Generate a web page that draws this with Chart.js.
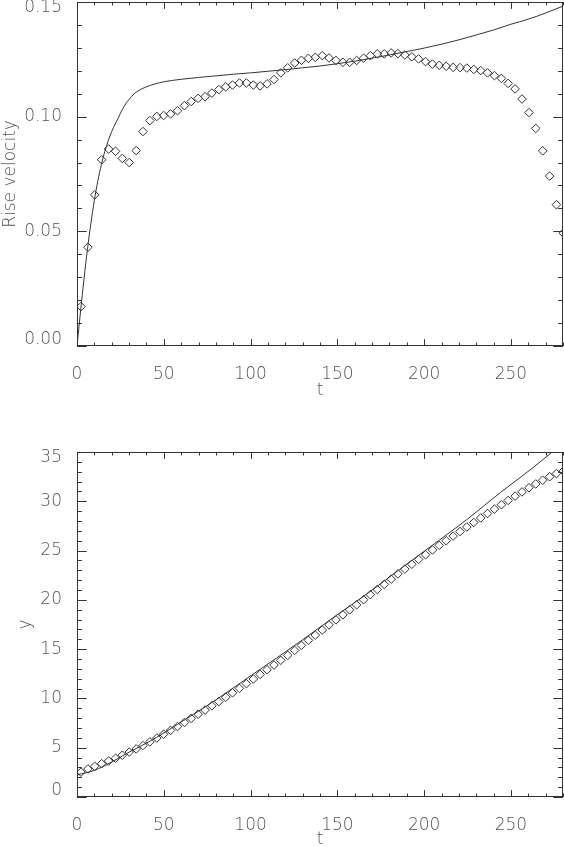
<!DOCTYPE html>
<html>
<head>
<meta charset="utf-8">
<script src="https://cdn.jsdelivr.net/npm/chart.js@4"></script>
<style>
  body { margin: 0; background: #fff; overflow: hidden; }
  #rise { position: absolute; left: 0; top: 0; }
  #height { position: absolute; left: 0; top: 430px; }
</style>
</head>
<body>
<canvas id="rise" width="564" height="401"></canvas>
<canvas id="height" width="564" height="420"></canvas>
<script>
// sample times of the measured points (diamonds)
const obsT = [2.3, 6.3, 10.2, 14.2, 18.2, 22.2, 26.1, 30.1, 34.1, 38.0,
  42.0, 46.0, 49.9, 53.9, 57.9, 61.9, 65.8, 69.8, 73.8, 77.7,
  81.7, 85.7, 89.6, 93.6, 97.6, 101.6, 105.5, 109.5, 113.5, 117.4,
  121.4, 125.4, 129.3, 133.3, 137.3, 141.3, 145.2, 149.2, 153.2, 157.1,
  161.1, 165.1, 169.0, 173.0, 177.0, 181.0, 184.9, 188.9, 192.9, 196.8,
  200.8, 204.8, 208.7, 212.7, 216.7, 220.7, 224.6, 228.6, 232.6, 236.5,
  240.5, 244.5, 248.4, 252.4, 256.4, 260.4, 264.3, 268.3, 272.3, 276.2, 280.2];

// measured rise velocity
const obsVel = [0.0172, 0.0431, 0.0659, 0.0812, 0.0859, 0.0849, 0.0818, 0.0800, 0.0852, 0.0935,
  0.0983, 0.1001, 0.1005, 0.1012, 0.1026, 0.1048, 0.1066, 0.1080, 0.1087, 0.1103,
  0.1118, 0.1130, 0.1138, 0.1147, 0.1147, 0.1138, 0.1134, 0.1143, 0.1162, 0.1191,
  0.1213, 0.1234, 0.1246, 0.1254, 0.1259, 0.1266, 0.1256, 0.1245, 0.1237, 0.1237,
  0.1245, 0.1255, 0.1266, 0.1274, 0.1274, 0.1278, 0.1275, 0.1269, 0.1261, 0.1252,
  0.1240, 0.1229, 0.1224, 0.1220, 0.1215, 0.1214, 0.1212, 0.1206, 0.1201, 0.1191,
  0.1179, 0.1167, 0.1145, 0.1121, 0.1077, 0.1018, 0.0949, 0.0851, 0.0741, 0.0616, 0.0492];

// measured height
const obsY = [2.52, 2.84, 3.12, 3.38, 3.65, 3.93, 4.24, 4.56, 4.88, 5.22,
  5.59, 5.98, 6.37, 6.76, 7.15, 7.56, 7.98, 8.40, 8.82, 9.25,
  9.68, 10.12, 10.57, 11.02, 11.50, 11.97, 12.44, 12.91, 13.39, 13.87,
  14.37, 14.87, 15.38, 15.90, 16.42, 16.94, 17.46, 17.97, 18.48, 18.99,
  19.50, 20.01, 20.53, 21.05, 21.57, 22.10, 22.63, 23.12, 23.61, 24.10,
  24.58, 25.06, 25.53, 26.00, 26.47, 26.93, 27.39, 27.85, 28.31, 28.76,
  29.21, 29.65, 30.09, 30.52, 30.95, 31.37, 31.76, 32.14, 32.49, 32.81, 33.08];

// model curve, velocity
const modelVelT = [0, 2, 4, 6, 8, 10, 12, 14, 16, 18, 20, 22, 24, 26, 28, 30, 33, 36, 40, 45,
  50, 60, 70, 80, 90, 100, 110, 120, 130, 140, 150, 160, 170, 180, 190, 200, 210, 220,
  230, 240, 250, 260, 270, 280];
const modelVel = [0, 0.0148, 0.0290, 0.0420, 0.0535, 0.0635, 0.0720, 0.0790, 0.0848, 0.0895,
  0.0935, 0.0968, 0.0998, 0.1030, 0.1055, 0.1075, 0.1100, 0.1116, 0.1130, 0.1143,
  0.1152, 0.1163, 0.1171, 0.1178, 0.1185, 0.1191, 0.1198, 0.1205, 0.1213, 0.1221,
  0.1231, 0.1242, 0.1255, 0.1269, 0.1284, 0.1299, 0.1316, 0.1335, 0.1356, 0.1378,
  0.1403, 0.1425, 0.1452, 0.1482];

// model curve, height
const modelYT = [0, 10, 20, 30, 43, 60, 80, 96, 115, 130, 148, 167, 186, 206, 225, 244, 263, 280];
const modelY = [2.25, 2.7, 3.55, 4.55, 5.75, 7.6, 9.85, 11.8, 14.1, 15.95, 18.25, 20.6, 23.1,
  25.7, 28.2, 30.9, 33.45, 35.9];

const tTicks = [0, 50, 100, 150, 200, 250];
const velTicks = [0, 0.05, 0.10, 0.15];
const yTicks = [0, 5, 10, 15, 20, 25, 30, 35];

const ink = '#333';
const textGray = '#555';
const fontFamily = "'DejaVu Sans', sans-serif";

function pts(xs, ys) {
  return xs.map((x, i) => ({x: x, y: ys[i]}));
}

// IDL style frame: box on all four sides, major and minor ticks pointing inward
const idlFrame = {
  id: 'idlFrame',
  afterDatasetsDraw(chart, args, opts) {
    const {ctx, chartArea: a, scales: {x, y}} = chart;
    ctx.save();
    ctx.strokeStyle = ink;
    ctx.lineWidth = 1;
    ctx.strokeRect(a.left + 0.5, a.top + 0.5, a.width - 1, a.height - 1);
    ctx.beginPath();
    const xLen = 0.02 * a.height, yLen = 0.02 * a.width;
    let n = Math.round((x.max - x.min) / opts.xMinor);
    let r = Math.round(opts.xMajor / opts.xMinor);
    for (let i = 0; i <= n; i++) {
      const px = Math.round(x.getPixelForValue(x.min + i * opts.xMinor)) + 0.5;
      const len = i % r === 0 ? xLen : xLen / 2;
      ctx.moveTo(px, a.bottom); ctx.lineTo(px, a.bottom - len);
      ctx.moveTo(px, a.top); ctx.lineTo(px, a.top + len);
    }
    n = Math.round((y.max - y.min) / opts.yMinor);
    r = Math.round(opts.yMajor / opts.yMinor);
    for (let i = 0; i <= n; i++) {
      const py = Math.round(y.getPixelForValue(y.min + i * opts.yMinor)) + 0.5;
      const len = i % r === 0 ? yLen : yLen / 2;
      ctx.moveTo(a.left, py); ctx.lineTo(a.left + len, py);
      ctx.moveTo(a.right, py); ctx.lineTo(a.right - len, py);
    }
    ctx.stroke();
    ctx.restore();
  }
};

// end labels sit just inside the axis ends, as IDL draws them
function edgeLabel(text, index, count) {
  if (index === count - 1) return ['', text];
  if (index === 0) return [text, ''];
  return text;
}

function xAxis(height) {
  return {
    type: 'linear', min: 0, max: 280,
    grid: {display: false}, border: {display: false},
    afterBuildTicks: s => { s.ticks = tTicks.map(v => ({value: v})); },
    ticks: {color: textGray, padding: 10, font: {family: fontFamily, size: 17, weight: 200}},
    title: {display: true, text: 't', color: textGray, padding: {top: 0, bottom: 0},
      font: {family: fontFamily, size: 17, weight: 200}},
    afterFit: s => { s.height = height; s.paddingLeft = 0; s.paddingRight = 0; }
  };
}

function yAxis(max, tickValues, decimals, label, titlePad) {
  return {
    type: 'linear', min: 0, max: max,
    grid: {display: false}, border: {display: false},
    afterBuildTicks: s => { s.ticks = tickValues.map(v => ({value: v})); },
    ticks: {
      color: textGray, padding: 7,
      font: {family: fontFamily, size: 17, weight: 200, lineHeight: 0.7},
      callback: (v, i, t) => edgeLabel(v.toFixed(decimals), i, t.length)
    },
    title: {display: true, text: label, color: textGray, padding: {top: titlePad, bottom: 0},
      font: {family: fontFamily, size: 17, weight: 200}},
    afterFit: s => { s.width = 77; s.paddingTop = 0; s.paddingBottom = 0; }
  };
}

const ctx = document.getElementById('rise');

new Chart(ctx, {
  type: 'scatter',
  data: {
    datasets: [{
      data: pts(modelVelT, modelVel),
      showLine: true,
      pointRadius: 0,
      borderColor: ink,
      borderWidth: 1,
      cubicInterpolationMode: 'monotone',
      clip: 0
    }, {
      data: pts(obsT, obsVel),
      pointStyle: 'rectRot',
      pointRadius: 4.3,
      borderColor: ink,
      backgroundColor: 'rgba(0,0,0,0)',
      borderWidth: 1,
      clip: 0
    }]
  },
  options: {
    responsive: false,
    animation: false,
    layout: {autoPadding: false, padding: {top: 2, right: 1, left: 0, bottom: 0}},
    plugins: {
      legend: {display: false},
      tooltip: {enabled: false},
      idlFrame: {xMinor: 10, xMajor: 50, yMinor: 0.01, yMajor: 0.05}
    },
    scales: {
      x: xAxis(55),
      y: yAxis(0.15, velTicks, 2, 'Rise velocity', 0)
    }
  },
  plugins: [idlFrame]
});

const ctx2 = document.getElementById('height');

new Chart(ctx2, {
  type: 'scatter',
  data: {
    datasets: [{
      data: pts(modelYT, modelY),
      showLine: true,
      pointRadius: 0,
      borderColor: ink,
      borderWidth: 1,
      cubicInterpolationMode: 'monotone',
      clip: 0
    }, {
      data: pts(obsT, obsY),
      pointStyle: 'rectRot',
      pointRadius: 4.3,
      borderColor: ink,
      backgroundColor: 'rgba(0,0,0,0)',
      borderWidth: 1,
      clip: 0
    }]
  },
  options: {
    responsive: false,
    animation: false,
    layout: {autoPadding: false, padding: {top: 22, right: 1, left: 0, bottom: 0}},
    plugins: {
      legend: {display: false},
      tooltip: {enabled: false},
      idlFrame: {xMinor: 10, xMajor: 50, yMinor: 1, yMajor: 5}
    },
    scales: {
      x: xAxis(53),
      y: yAxis(35, yTicks, 0, 'y', 15)
    }
  },
  plugins: [idlFrame]
});
</script>
</body>
</html>
